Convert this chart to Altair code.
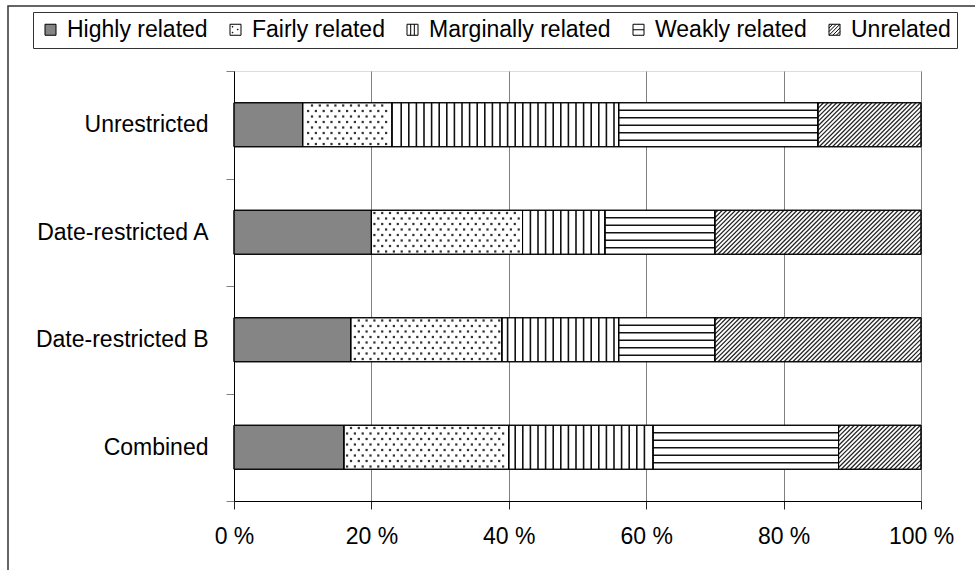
import json
import altair as alt
import pandas as pd

# ---------------- data ----------------
categories = ["Unrestricted", "Date-restricted A", "Date-restricted B", "Combined"]
series_names = ["Highly related", "Fairly related", "Marginally related",
                "Weakly related", "Unrelated"]
highly_related = [10, 20, 17, 16]
fairly_related = [13, 22, 22, 24]
marginally_related = [33, 12, 17, 21]
weakly_related = [29, 16, 14, 27]
unrelated = [15, 30, 30, 12]
x_ticks = [0, 20, 40, 60, 80, 100]

series_values = [highly_related, fairly_related, marginally_related,
                 weakly_related, unrelated]

rows = []
for ci, cat in enumerate(categories):
    acc = 0
    for si, name in enumerate(series_names):
        v = series_values[si][ci]
        rows.append({"category": cat, "idx": ci, "series": name,
                     "value": v, "start": acc, "end": acc + v})
        acc += v
df = pd.DataFrame(rows)

# ---------------- layout / style ----------------
W, H = 687, 430
N = len(categories)
KX = W / 100.0          # px per percent
KY = H / N              # px per category band
HALF = 22 / KY          # half bar thickness in band units
FONT = "Liberation Sans"
FS = 23

x_scale = alt.Scale(domain=[0, 100], nice=False, zero=False)
y_scale = alt.Scale(domain=[0, N], reverse=True, nice=False, zero=False)

x_axis = alt.Axis(values=x_ticks, labelExpr="datum.value + ' %'", title=None,
                  grid=True, gridColor="#808080", gridWidth=1,
                  domainColor="black", tickColor="#222222", tickSize=8,
                  labelFontSize=FS, labelPadding=16, labelColor="black",
                  labelFlush=False)
y_axis = alt.Axis(values=list(range(N + 1)),
                  labelExpr=json.dumps(categories) + "[datum.value] || ''",
                  labelOffset=KY / 2, title=None, grid=False,
                  domainColor="black", tickColor="#808080", tickSize=8,
                  labelFontSize=FS, labelPadding=18, labelColor="black",
                  labelFlush=False)

bar_fills = ["#858585", "white", "white", "white", "white"]
legend_fills = ["#858585", "white", "white", "white", "white"]
legend_strokes = ["black", "black", "black", "black", "black"]
SQ = "M-1,-1H1V1H-1Z"
legend_shapes = [
    SQ,
    SQ + " M-0.6,-0.6h0.12v0.12h-0.12Z M0.35,-0.1h0.12v0.12h-0.12Z M-0.6,0.45h0.12v0.12h-0.12Z",
    SQ + " M-0.33,-1V1 M0.33,-1V1",
    SQ + " M-1,0H1",
    SQ + " M-1,-0.33L-0.33,-1 M-1,0.33L0.33,-1 M-1,1L1,-1 M-0.33,1L1,-0.33 M0.33,1L1,0.33",
]

legend = alt.Legend(title=None, orient="none", legendX=-201, legendY=-59,
                    direction="horizontal", symbolSize=121,
                    symbolStrokeWidth=1,
                    labelFontSize=FS, labelColor="black", labelFont=FONT,
                    labelLimit=400, labelOffset=5, columnPadding=16,
                    padding=6, strokeColor="#333333", fillColor="white")

base = alt.Chart(df).transform_calculate(
    top=f"datum.idx + 0.5 - {HALF}",
    bot=f"datum.idx + 0.5 + {HALF}",
    mid="datum.idx + 0.5",
    xm="(datum.start + datum.end) / 2",
)

# outer frame (decoration)
frame = alt.Chart(pd.DataFrame({"f": [0]})).mark_rect(
    fillOpacity=0, stroke="#333333", strokeWidth=1.5
).encode(x=alt.value(-226), x2=alt.value(W + 80),
         y=alt.value(-65), y2=alt.value(H + 90))

# legend carrier (hidden underneath the bars)
legend_layer = base.mark_point(filled=True, size=30,
                               strokeWidth=1, opacity=1).encode(
    x=alt.X("xm:Q", scale=x_scale, axis=x_axis),
    y=alt.Y("mid:Q", scale=y_scale, axis=y_axis),
    fill=alt.Fill("series:N",
                  scale=alt.Scale(domain=series_names, range=legend_fills),
                  legend=legend),
    stroke=alt.Stroke("series:N",
                      scale=alt.Scale(domain=series_names, range=legend_strokes),
                      legend=legend),
    shape=alt.Shape("series:N",
                    scale=alt.Scale(domain=series_names, range=legend_shapes),
                    legend=legend),
)

bar_layers = []
for i, name in enumerate(series_names):
    bar_layers.append(
        base.transform_filter(alt.datum.series == name).mark_rect(
            fill=bar_fills[i], stroke="black", strokeWidth=1
        ).encode(
            x=alt.X("start:Q", scale=x_scale, axis=x_axis),
            x2="end:Q",
            y=alt.Y("top:Q", scale=y_scale, axis=y_axis),
            y2="bot:Q",
        )
    )

# dotted pattern (Fairly related)
DX = 7.8 / KX
NROWS = 8
dots = base.transform_filter(
    alt.datum.series == series_names[1]
).transform_calculate(
    r=f"sequence(0, {NROWS})"
).transform_flatten(["r"]).transform_calculate(
    off=f"(datum.r % 2) * {DX / 2}"
).transform_calculate(
    xs=f"sequence(ceil((datum.start - datum.off) / {DX} + 0.3) * {DX} + datum.off, datum.end - 0.3, {DX})"
).transform_flatten(["xs"]).transform_calculate(
    yd=f"datum.top + (datum.r + 0.5) * {2 * HALF / NROWS}"
).mark_square(size=5, color="#333333", opacity=1).encode(
    x=alt.X("xs:Q", scale=x_scale, axis=x_axis),
    y=alt.Y("yd:Q", scale=y_scale, axis=y_axis),
)

# vertical lines (Marginally related)
SV = 7.6 / KX
vlines = base.transform_filter(
    alt.datum.series == series_names[2]
).transform_calculate(
    xs=f"sequence(ceil(datum.start / {SV} + 0.4) * {SV}, datum.end - 0.3, {SV})"
).transform_flatten(["xs"]).mark_rule(color="#111111", strokeWidth=1.6).encode(
    x=alt.X("xs:Q", scale=x_scale, axis=x_axis),
    y=alt.Y("top:Q", scale=y_scale, axis=y_axis),
    y2="bot:Q",
)

# horizontal lines (Weakly related)
DYH = 7.5 / KY
hlines = base.transform_filter(
    alt.datum.series == series_names[3]
).transform_calculate(
    ys=f"sequence(datum.top + {DYH}, datum.bot - {DYH * 0.4}, {DYH})"
).transform_flatten(["ys"]).mark_rule(color="#111111", strokeWidth=1.6).encode(
    x=alt.X("start:Q", scale=x_scale, axis=x_axis),
    x2="end:Q",
    y=alt.Y("ys:Q", scale=y_scale, axis=y_axis),
)

# diagonal hatching (Unrelated)
S = 4.4
diag = base.transform_filter(
    alt.datum.series == series_names[4]
).transform_calculate(
    X0=f"datum.start * {KX}",
    X1=f"datum.end * {KX}",
    B=f"datum.bot * {KY}",
    hh=f"(datum.bot - datum.top) * {KY}",
).transform_calculate(
    cs=f"sequence(ceil((datum.X0 - datum.hh) / {S}) * {S}, datum.X1, {S})"
).transform_flatten(["cs"]).transform_calculate(
    ua="max(0, datum.X0 - datum.cs)",
    ub="min(datum.hh, datum.X1 - datum.cs)",
).transform_filter("datum.ub - datum.ua > 0.5").transform_calculate(
    dx1=f"(datum.cs + datum.ua) / {KX}",
    dy1=f"(datum.B - datum.ua) / {KY}",
    dx2=f"(datum.cs + datum.ub) / {KX}",
    dy2=f"(datum.B - datum.ub) / {KY}",
).mark_rule(color="#222222", strokeWidth=1.2).encode(
    x=alt.X("dx1:Q", scale=x_scale, axis=x_axis),
    y=alt.Y("dy1:Q", scale=y_scale, axis=y_axis),
    x2="dx2:Q",
    y2="dy2:Q",
)

outline = base.mark_rect(fillOpacity=0, stroke="black", strokeWidth=1).encode(
    x=alt.X("start:Q", scale=x_scale, axis=x_axis),
    x2="end:Q",
    y=alt.Y("top:Q", scale=y_scale, axis=y_axis),
    y2="bot:Q",
)

chart = alt.layer(
    frame, legend_layer, *bar_layers, dots, vlines, hlines, diag, outline
).properties(
    width=W, height=H,
    autosize=alt.AutoSizeParams(type="none"),
    padding={"left": 234, "top": 71, "right": 54, "bottom": 69},
    background="white",
).configure_view(
    stroke="#808080"
).configure(
    font=FONT
).configure_axis(
    labelFont=FONT
)

chart.save("out.html", embed_options={"renderer": "svg", "actions": False})
